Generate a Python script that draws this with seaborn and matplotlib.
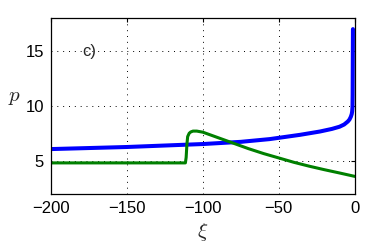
import numpy as np
import pandas as pd
import matplotlib
matplotlib.use("Agg")
import matplotlib.pyplot as plt
import seaborn as sns

# blue curve
blue_x = [-200, -150, -100, -75, -56, -36, -23, -15, -10, -7, -4.6, -3.5, -2.6, -2.0,
          -1.7, -1.5, -1.4, -1.3, -1.2]
blue_y = [6.06, 6.25, 6.52, 6.72, 6.97, 7.36, 7.66, 7.9, 8.1, 8.3, 8.57, 8.75, 9.0, 9.25,
          9.5, 9.9, 11.0, 14.0, 17.0]

# green curve
green_x = [-200, -111.5, -111.0, -110.5, -110.0, -109.0, -108.0, -106.5, -104, -100, -90, -80,
           -70, -60, -50, -40, -30, -20, -10, 0]
green_y = [4.8, 4.8, 5.3, 6.5, 7.2, 7.5, 7.62, 7.7, 7.7, 7.6, 7.1, 6.6,
           6.1, 5.65, 5.25, 4.85, 4.5, 4.18, 3.88, 3.57]

sns.set_style("white")
plt.rcParams["font.family"] = ["Liberation Sans", "DejaVu Sans"]
plt.rcParams["mathtext.fontset"] = "cm"

fig, ax = plt.subplots(figsize=(3.92, 2.42), dpi=100)
fig.subplots_adjust(left=0.13, right=0.905, top=0.925, bottom=0.2)

sns.lineplot(x=blue_x, y=blue_y, ax=ax, color=(0, 0, 1), linewidth=2.9, estimator=None, sort=False)
sns.lineplot(x=green_x, y=green_y, ax=ax, color=(0, 0.5, 0), linewidth=2.2, estimator=None, sort=False)

ax.set_xlim(-200, 0)
ax.set_ylim(2, 18)
ax.set_xticks([-200, -150, -100, -50, 0])
ax.set_xticklabels(["\u2212200", "\u2212150", "\u2212100", "\u221250", "0"])
ax.set_yticks([5, 10, 15])
ax.grid(True, color="black", linestyle=(0, (1, 5)), linewidth=0.7)
ax.tick_params(direction="in", length=3, width=0.8, top=True, right=True, labelsize=12, pad=5, colors="black")
for s in ax.spines.values():
    s.set_color("black")
    s.set_linewidth(0.9)

ax.text(-175, 15, "c)", fontsize=12, va="center", ha="center")
ax.set_xlabel(r"$\xi$", fontsize=15, labelpad=4)
ax.set_ylabel(r"$p$", fontsize=15, rotation=0, va="center", ha="center")
ax.yaxis.set_label_coords(-0.12, 0.55)

fig.savefig("out.png", dpi=100)
